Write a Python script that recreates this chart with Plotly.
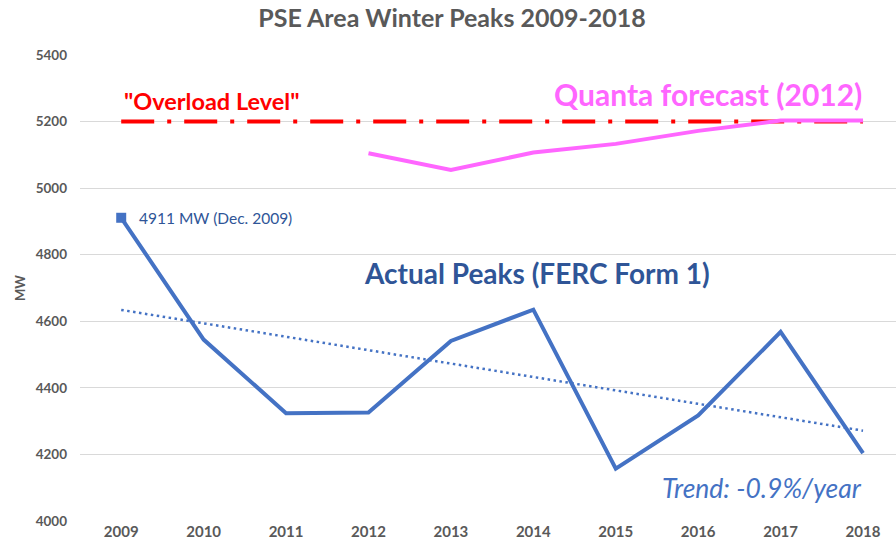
import numpy as np
import plotly.graph_objects as go

years = [2009, 2010, 2011, 2012, 2013, 2014, 2015, 2016, 2017, 2018]
actual_peaks = [4911, 4545, 4324, 4326, 4541, 4635, 4157, 4317, 4568, 4204]
forecast_years = [2012, 2013, 2014, 2015, 2016, 2017, 2018]
quanta_forecast = [5105, 5055, 5107, 5133, 5172, 5203, 5203]
overload_level = 5200
y_ticks = [4000, 4200, 4400, 4600, 4800, 5000, 5200, 5400]

FONT = "Lato"
GRAY = "#595959"
BLUE = "#4472C4"
DARKBLUE = "#2F5597"
MAGENTA = "#FF66FF"
RED = "#FF0000"

# Excel-style linear trendline of the actual peaks
slope, intercept = np.polyfit(years, actual_peaks, 1)
trend = [slope * y + intercept for y in years]

fig = go.Figure()
fig.add_trace(go.Scatter(x=years, y=[overload_level] * len(years), mode="lines",
                         line=dict(color=RED, width=4, dash="33px,13px,4px,13px"),
                         hoverinfo="skip"))
fig.add_trace(go.Scatter(x=years, y=trend, mode="lines",
                         line=dict(color=BLUE, width=2.5, dash="2.5px,3.5px")))
fig.add_trace(go.Scatter(x=years, y=actual_peaks, mode="lines",
                         line=dict(color=BLUE, width=4)))
fig.add_trace(go.Scatter(x=years[:1], y=actual_peaks[:1], mode="markers",
                         marker=dict(color=BLUE, symbol="square", size=10)))
fig.add_trace(go.Scatter(x=forecast_years, y=quanta_forecast, mode="lines",
                         line=dict(color=MAGENTA, width=4)))

ann = [
    dict(x=years[0], y=5262, text='<b>"Overload Level"</b>', xanchor="left", yanchor="middle",
         xshift=1, font=dict(color=RED, size=23.5, family=FONT), showarrow=False),
    dict(x=years[-1], y=5282, text="<b>Quanta forecast (2012)</b>", xanchor="right", yanchor="middle",
         xshift=1, font=dict(color=MAGENTA, size=30, family=FONT), showarrow=False),
    dict(x=2014.04, y=4745, text="<b>Actual Peaks (FERC Form 1)</b>", xanchor="center", yanchor="middle",
         font=dict(color=DARKBLUE, size=28, family=FONT), showarrow=False),
    dict(x=years[0], y=actual_peaks[0], text="4911 MW (Dec. 2009)", xanchor="left", yanchor="middle",
         xshift=16, font=dict(color=DARKBLUE, size=15.5, family=FONT), showarrow=False),
    dict(x=years[-1], y=4100, text="<i>Trend: -0.9%/year</i>", xanchor="right", yanchor="middle",
         xshift=1, font=dict(color=BLUE, size=26.5, family=FONT), showarrow=False),
    dict(x=0, y=0.5, xref="paper", yref="paper", text="<b>MW</b>", textangle=-90,
         xanchor="center", yanchor="middle", xshift=-60, showarrow=False,
         font=dict(color=GRAY, size=13, family=FONT)),
]

fig.update_layout(
    width=896, height=552,
    margin=dict(l=80, r=0, t=55, b=31),
    plot_bgcolor="white", paper_bgcolor="white",
    showlegend=False,
    title=dict(text="<b>PSE Area Winter Peaks 2009-2018</b>", x=0.5045, xanchor="center",
               y=0.967, yanchor="middle", font=dict(size=25, color=GRAY, family=FONT)),
    xaxis=dict(range=[2008.5, 2018.4], tickmode="array", tickvals=years,
               ticktext=[f"<b>{y}</b>" for y in years], showgrid=False, zeroline=False,
               showline=False, ticks="", tickfont=dict(size=15, color=GRAY, family=FONT)),
    yaxis=dict(range=[4000, 5400], tickmode="array", tickvals=y_ticks,
               ticktext=[f"<b>{v}</b>" for v in y_ticks], showgrid=True, gridcolor="#D9D9D9",
               gridwidth=1, zeroline=False, showline=False, ticks="", ticklabelstandoff=12,
               tickfont=dict(size=13.5, color=GRAY, family=FONT)),
    annotations=ann,
)
fig.write_html("out.html", config={"displayModeBar": False},
               post_script="document.body.style.margin='0';")
